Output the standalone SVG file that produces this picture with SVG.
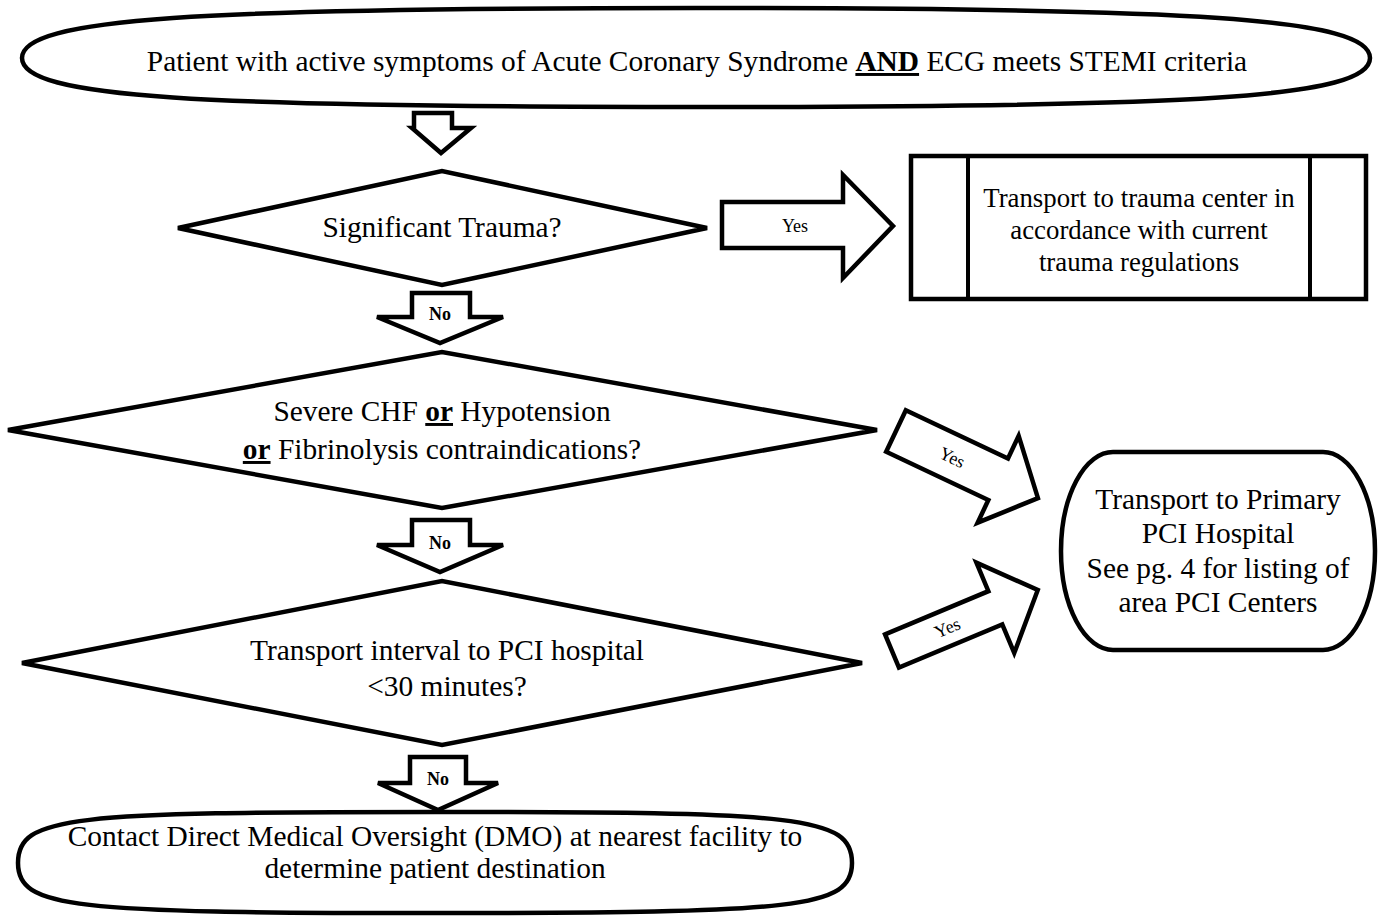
<svg xmlns="http://www.w3.org/2000/svg" width="1382" height="917" viewBox="0 0 1382 917">
<style>
.s{fill:#fff;stroke:#000;stroke-width:4.5;stroke-linejoin:miter}
.t{font-family:"Liberation Serif","Times New Roman",serif;font-size:29.4px;fill:#000;text-anchor:middle}
.b{font-family:"Liberation Serif","Times New Roman",serif;font-size:26.8px;fill:#000;text-anchor:middle}
.y{font-family:"Liberation Serif","Times New Roman",serif;font-size:18px;fill:#000;text-anchor:middle}
.n{font-family:"Liberation Serif","Times New Roman",serif;font-size:18px;font-weight:bold;fill:#000;text-anchor:middle}
.u{font-weight:bold;text-decoration:underline}
</style>
<rect width="1382" height="917" fill="#fff"/>
<g id="start">
<path class="s" d="M22,58 C22,18 200,8 696,8 C1192,8 1370,18 1370,58 C1370,98 1192,107 696,107 C200,107 22,98 22,58 Z"/>
<text class="t" x="697" y="71">Patient with active symptoms of Acute Coronary Syndrome <tspan class="u">AND</tspan> ECG meets STEMI criteria</text>
</g>
<g id="d1">
<polygon class="s" points="178,228 442,171 707,228 442,285"/>
<text class="t" x="442" y="237">Significant Trauma?</text>
</g>
<g id="trauma">
<rect class="s" x="911" y="156" width="455" height="143"/>
<line x1="968" y1="156" x2="968" y2="299" stroke="#000" stroke-width="4"/>
<line x1="1310" y1="156" x2="1310" y2="299" stroke="#000" stroke-width="4"/>
<text class="b" x="1139" y="207">Transport to trauma center in</text>
<text class="b" x="1139" y="239">accordance with current</text>
<text class="b" x="1139" y="271">trauma regulations</text>
</g>
<g id="d2">
<polygon class="s" points="8,430 442,352 877,430 442,508"/>
<text class="t" x="442" y="421">Severe CHF <tspan class="u">or</tspan> Hypotension</text>
<text class="t" x="442" y="459"><tspan class="u">or</tspan> Fibrinolysis contraindications?</text>
</g>
<g id="d3">
<polygon class="s" points="22,663 442,581 862,663 442,745"/>
<text class="t" x="447" y="660">Transport interval to PCI hospital</text>
<text class="t" x="447" y="696">&lt;30 minutes?</text>
</g>
<g id="pci">
<rect class="s" x="1061" y="452" width="314" height="198" rx="52" ry="99"/>
<text class="t" x="1218" y="509">Transport to Primary</text>
<text class="t" x="1218" y="543">PCI Hospital</text>
<text class="t" x="1218" y="578">See pg. 4 for listing of</text>
<text class="t" x="1218" y="612">area PCI Centers</text>
</g>
<g id="dmo">
<path class="s" d="M18,863 C18,816 70,812 435,812 C800,812 852,816 852,863 C852,908 800,913 435,913 C70,913 18,908 18,863 Z"/>
<text class="t" x="435" y="846">Contact Direct Medical Oversight (DMO) at nearest facility to</text>
<text class="t" x="435" y="878">determine patient destination</text>
</g>
<g id="connectors">
<polygon class="s" points="414,113 452,113 452,128 471,128 441,153 412,128 414,128"/>
<polygon class="s" points="722,202 843,202 843,175 893,226 843,278 843,248 722,248"/>
<text class="y" x="795" y="232">Yes</text>
<polygon class="s" points="412,293 470,293 470,317 503,317 440,343 377,317 412,317"/>
<text class="n" x="440" y="320">No</text>
<polygon class="s" points="412,520 470,520 470,545 503,545 440,572 377,545 412,545"/>
<text class="n" x="440" y="549">No</text>
<polygon class="s" points="410,757 466,757 466,783 498,783 438,810 378,783 410,783"/>
<text class="n" x="438" y="785">No</text>
<g transform="translate(896,431) rotate(25.3)">
<polygon class="s" points="0,-23 113,-23 113,-48 157,0 113,48 113,23 0,23"/>
<text class="y" x="62" y="6">Yes</text>
</g>
<g transform="translate(892,651) rotate(-22.7)">
<polygon class="s" points="0,-18 112,-18 112,-49 158,0 112,49 112,18 0,18"/>
<text class="y" x="60" y="6">Yes</text>
</g>
</g>
</svg>
